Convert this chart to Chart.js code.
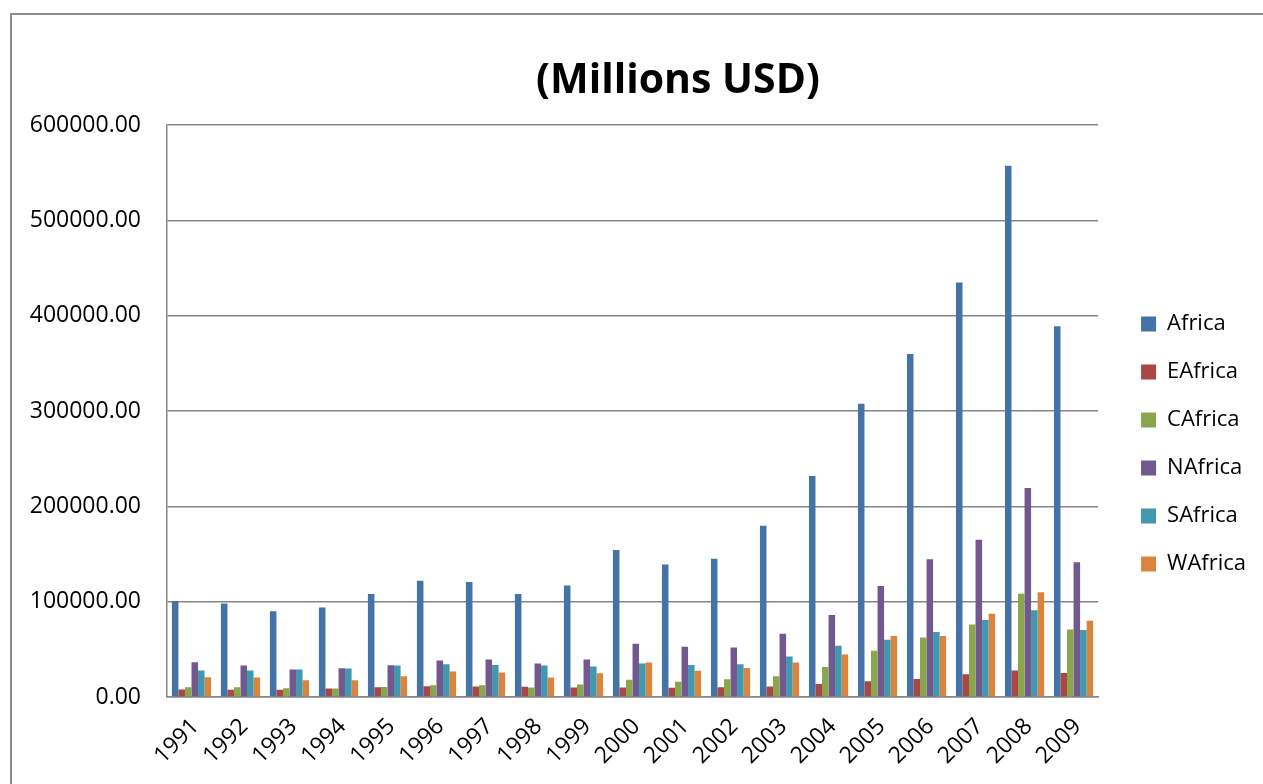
<!DOCTYPE html>
<html>
<head>
<meta charset="utf-8">
<script src="https://cdn.jsdelivr.net/npm/chart.js@4"></script>
<style>
  html, body { margin: 0; padding: 0; background: #fff; overflow: hidden; width: 1263px; height: 784px; }
  #frame { position: absolute; left: 10px; top: 13px; width: 1340px; height: 860px;
           border-left: 2px solid #8c8c8c; border-top: 2px solid #8c8c8c; background: #fff; }
  #wrap { position: absolute; left: 0; top: 0; width: 1332px; height: 858px; }
</style>
</head>
<body>
<div id="frame"><div id="wrap"><canvas id="c"></canvas></div></div>
<script>
const years = ['1991','1992','1993','1994','1995','1996','1997','1998','1999','2000',
               '2001','2002','2003','2004','2005','2006','2007','2008','2009'];

const africa  = [100800, 98200, 89900, 94000, 108000, 122000, 120600, 108000, 117000, 154300,
                 139000, 145000, 179700, 232000, 307800, 359800, 435000, 557500, 389000];
const eAfrica = [7800, 7500, 7500, 8900, 10300, 11300, 11000, 10700, 10000, 10000,
                 9700, 10300, 10900, 13700, 16500, 19000, 23900, 27800, 25300];
const cAfrica = [10300, 10300, 9200, 8900, 10600, 12400, 12400, 10000, 13100, 18000,
                 16000, 18700, 21800, 31600, 48400, 62500, 76200, 108400, 70900];
const nAfrica = [36400, 33000, 28800, 30200, 33300, 38200, 39300, 35100, 39300, 56000,
                 52700, 52000, 66300, 86000, 116500, 144600, 165000, 219300, 141500];
const sAfrica = [27700, 27700, 28800, 29800, 33000, 34400, 33700, 33000, 31900, 35100,
                 33700, 34400, 42500, 53700, 60000, 68100, 80700, 90900, 70200];
const wAfrica = [20700, 20400, 17600, 17600, 21800, 26700, 25700, 20400, 24900, 36200,
                 27500, 30400, 36200, 44600, 63900, 63900, 87400, 109900, 80000];

const yTicks = [0, 100000, 200000, 300000, 400000, 500000, 600000];

const FONT = '"Open Sans", "Noto Sans", sans-serif';
const GRID = '#868686';
const CANVAS_H = 858;
const PLOT_BOTTOM = 682;

const series = [
  { label: 'Africa',  data: africa,  color: '#4572A7' },
  { label: 'EAfrica', data: eAfrica, color: '#AA4643' },
  { label: 'CAfrica', data: cAfrica, color: '#89A54E' },
  { label: 'NAfrica', data: nAfrica, color: '#71588F' },
  { label: 'SAfrica', data: sAfrica, color: '#4198AF' },
  { label: 'WAfrica', data: wAfrica, color: '#DB843D' }
];

// Center the title over the whole canvas, not just the part left of the legend padding.
const centerTitle = {
  id: 'centerTitle',
  afterLayout(chart) {
    if (chart.titleBlock) {
      chart.titleBlock.left = 0;
      chart.titleBlock.right = chart.width;
    }
  }
};

new Chart(document.getElementById('c'), {
  type: 'bar',
  data: {
    labels: years,
    datasets: series.map(s => ({
      label: s.label,
      data: s.data,
      backgroundColor: s.color,
      borderWidth: 0,
      categoryPercentage: 0.8,
      barPercentage: 1.0
    }))
  },
  plugins: [centerTitle],
  options: {
    responsive: true,
    maintainAspectRatio: false,
    animation: false,
    layout: { padding: { left: 0, right: 88, top: 0, bottom: 0 } },
    plugins: {
      title: {
        display: true,
        text: '(Millions USD)',
        color: '#000',
        font: { family: FONT, size: 41, weight: 'bold' },
        padding: { top: 42, bottom: 19 }
      },
      legend: {
        position: 'right',
        align: 'center',
        labels: {
          color: '#000',
          font: { family: FONT, size: 22 },
          boxWidth: 15,
          boxHeight: 15,
          padding: 26
        }
      },
      tooltip: { enabled: false }
    },
    scales: {
      x: {
        grid: { display: false, drawTicks: false },
        border: { display: true, color: GRID, width: 1.5 },
        ticks: {
          color: '#000',
          font: { family: FONT, size: 23 },
          minRotation: 45,
          maxRotation: 45,
          padding: 16,
          labelOffset: 4
        },
        afterFit: s => { s.height = CANVAS_H - PLOT_BOTTOM; }
      },
      y: {
        min: 0,
        max: 600000,
        afterBuildTicks: s => { s.ticks = yTicks.map(v => ({ value: v })); },
        grid: { color: GRID, lineWidth: 1.5, drawTicks: false },
        border: { display: true, color: GRID, width: 1.5 },
        ticks: {
          color: '#000',
          font: { family: FONT, size: 23 },
          padding: 26,
          callback: v => Number(v).toFixed(2)
        },
        afterFit: s => { s.width = 155; }
      },
      gap: {
        position: 'right',
        display: true,
        grid: { display: false, drawTicks: false },
        border: { display: false },
        ticks: { display: false },
        afterFit: s => { s.width = 17; }
      }
    }
  }
});
</script>
</body>
</html>
